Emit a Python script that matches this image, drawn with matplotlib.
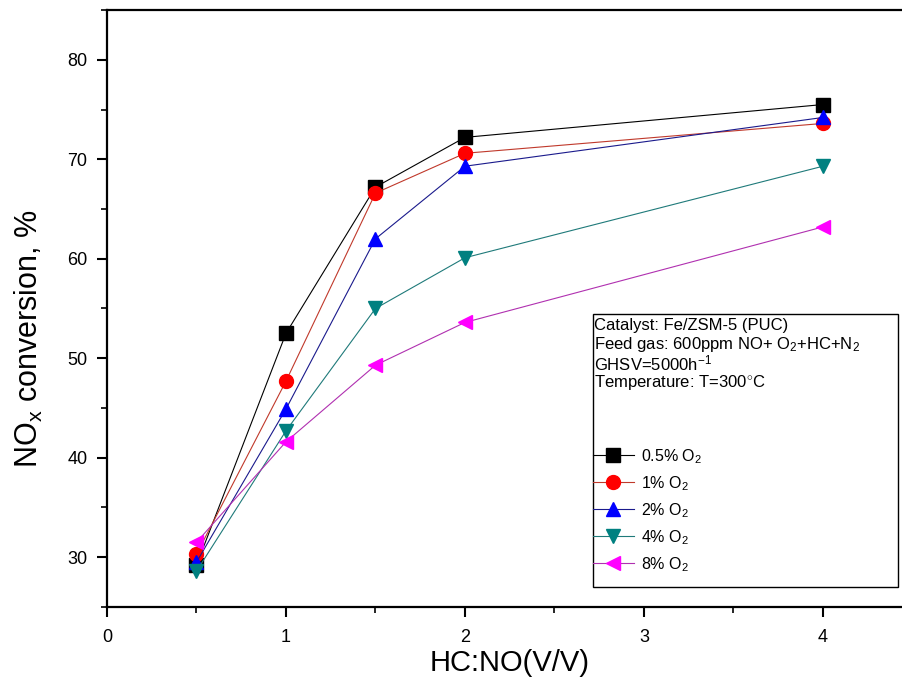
import matplotlib
matplotlib.use('Agg')
import matplotlib.pyplot as plt
from matplotlib.patches import Rectangle
from matplotlib.ticker import MultipleLocator

plt.rcParams['font.family'] = ['Liberation Sans', 'DejaVu Sans']
plt.rcParams['mathtext.fontset'] = 'custom'
plt.rcParams['mathtext.rm'] = 'Liberation Sans'
plt.rcParams['mathtext.it'] = 'Liberation Sans'

# Données
hc_no = [0.5, 1, 1.5, 2, 4]
o2_05 = [29.2, 52.5, 67.2, 72.2, 75.5]
o2_1 = [30.3, 47.7, 66.6, 70.6, 73.6]
o2_2 = [29.5, 44.9, 62.0, 69.3, 74.2]
o2_4 = [28.6, 42.7, 55.0, 60.1, 69.3]
o2_8 = [31.5, 41.6, 49.3, 53.6, 63.2]

labels = ['0.5% O$_2$', '1% O$_2$', '2% O$_2$', '4% O$_2$', '8% O$_2$']
series = [o2_05, o2_1, o2_2, o2_4, o2_8]
markers = ['s', 'o', '^', 'v', '<']
colors = ['black', 'red', 'blue', '#008080', '#ff00ff']
line_colors = ['black', '#c0392b', '#1a1a8c', '#1f7a7a', '#b030b0']

info_lines = ['Catalyst: Fe/ZSM-5 (PUC)',
              'Feed gas: 600ppm NO+ O$_2$+HC+N$_2$',
              'GHSV=5000h$^{-1}$',
              'Temperature: T=300$^{\\circ}$C']

fig = plt.figure(figsize=(9.02, 6.86), dpi=100)
ax = fig.add_axes([0.1186, 0.1152, 0.893, 0.8702])

for ys, lab, m, c, lc in zip(series, labels, markers, colors, line_colors):
    ax.plot(hc_no, ys, color=lc, linewidth=0.8, marker=m, markersize=10,
            markerfacecolor=c, markeredgecolor=c, label=lab)

ax.set_xlim(0, 4.5)
ax.set_ylim(25, 85)
ax.xaxis.set_major_locator(MultipleLocator(1))
ax.xaxis.set_minor_locator(MultipleLocator(0.5))
ax.set_yticks([30, 40, 50, 60, 70, 80])
ax.yaxis.set_minor_locator(MultipleLocator(5))
ax.tick_params(which='major', direction='out', length=7, width=1.5, labelsize=13, pad=7)
ax.tick_params(axis='x', which='major', pad=9)
ax.tick_params(which='minor', direction='out', length=4, width=1.2)
for sp in ax.spines.values():
    sp.set_linewidth(1.6)

ax.set_xlabel('HC:NO(V/V)', fontsize=21, labelpad=2)
ax.set_ylabel('NO$_x$ conversion, %', fontsize=22)
ax.yaxis.set_label_coords(-0.077, 0.449)

# boîte d'info + légende
ax.add_patch(Rectangle((0.603, 0.0335), 0.379, 0.4575, transform=ax.transAxes,
                       fill=False, edgecolor='black', linewidth=1.0, zorder=5))
y0 = 0.471
for i, t in enumerate(info_lines):
    ax.text(0.6046, y0 - i * 0.0315, t, transform=ax.transAxes, fontsize=12,
            ha='left', va='center')

ax.legend(loc='upper left', bbox_to_anchor=(0.603, 0.268), frameon=False,
          fontsize=11.5, handlelength=2.6, handletextpad=0.45, labelspacing=0.52,
          borderpad=0, borderaxespad=0, numpoints=1)

fig.savefig('out.png', dpi=100)
